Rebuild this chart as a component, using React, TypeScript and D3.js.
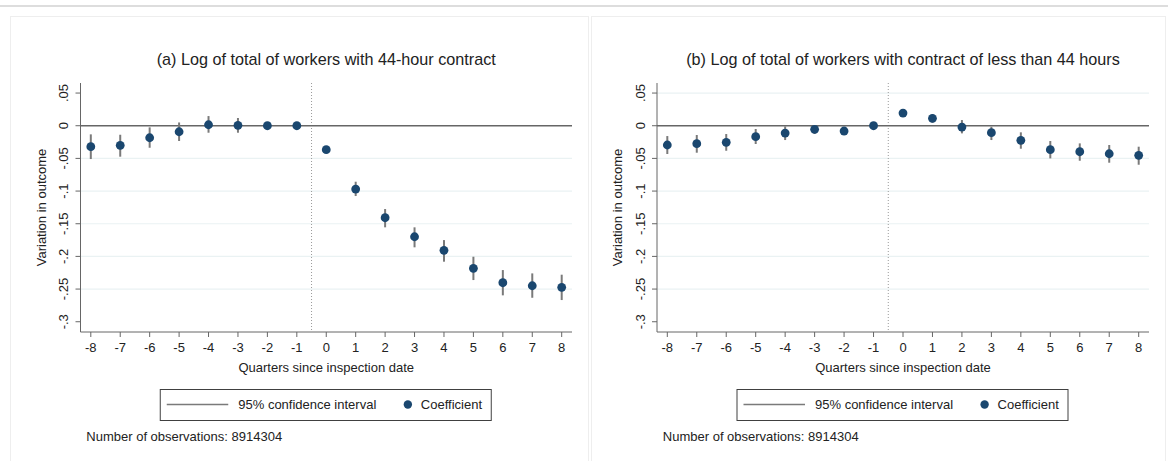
import React from "react";
import * as d3 from "d3";

const quarters = [-8, -7, -6, -5, -4, -3, -2, -1, 0, 1, 2, 3, 4, 5, 6, 7, 8];
const yTicks = [0.05, 0, -0.05, -0.1, -0.15, -0.2, -0.25, -0.3];
const yTickLabels = [".05", "0", "-.05", "-.1", "-.15", "-.2", "-.25", "-.3"];

const coefA = [-0.032, -0.030, -0.0184, -0.0092, 0.0015, 0.0006, 0, 0, -0.0367, -0.0969, -0.1408, -0.1699, -0.1907, -0.2183, -0.2403, -0.2449, -0.2474];
const loA = [-0.051, -0.0474, -0.0337, -0.0234, -0.0107, -0.0107, -0.005, null, -0.042, -0.1076, -0.1555, -0.1861, -0.2081, -0.2362, -0.2596, -0.2633, -0.2668];
const hiA = [-0.0132, -0.0138, -0.0025, 0.005, 0.0148, 0.0118, 0.005, null, -0.032, -0.0857, -0.1275, -0.1555, -0.175, -0.2005, -0.2209, -0.226, -0.228];

const coefB = [-0.0295, -0.0275, -0.0254, -0.0168, -0.0112, -0.0055, -0.0081, 0, 0.0194, 0.0113, -0.002, -0.0107, -0.0224, -0.0367, -0.0398, -0.0429, -0.0453];
const loB = [-0.0433, -0.0413, -0.0383, -0.028, -0.0219, -0.0127, -0.012, null, 0.016, 0.0046, -0.0117, -0.0219, -0.0352, -0.05, -0.0536, -0.0566, -0.0597];
const hiB = [-0.0158, -0.0142, -0.0127, -0.005, -0.001, 0.001, -0.004, null, 0.023, 0.0174, 0.0087, -0.0015, -0.0101, -0.0234, -0.027, -0.0295, -0.0321];

const titleA = "(a) Log of total of workers with 44-hour contract";
const titleB = "(b) Log of total of workers with contract of less than 44 hours";
const xTitle = "Quarters since inspection date";
const yTitle = "Variation in outcome";
const legendCI = "95% confidence interval";
const legendCoef = "Coefficient";
const note = "Number of observations: 8914304";

const FONT = "'Liberation Sans', Arial, Helvetica, sans-serif";
const DOT = "#1a476f";
const CI = "#7a7a7a";
const AXIS = "#666666";
const GRID = "#eaf2f3";
const TEXT = "#222222";

type PanelProps = {
  left: number;
  right: number;
  title: string;
  coef: number[];
  lo: (number | null)[];
  hi: (number | null)[];
  gridTop: boolean;
};

function Panel({ left, right, title, coef, lo, hi, gridTop }: PanelProps) {
  const top = 83;
  const bottom = 332;
  const x = d3.scaleLinear().domain([-8.35, 8.35]).range([left, right]);
  const y = d3.scaleLinear().domain([-0.3157, 0.0654]).range([bottom, top]);
  const cx = (left + right) / 2;
  const cy = (top + bottom) / 2;
  return (
    <g fontFamily={FONT}>
      {/* gridlines */}
      {yTicks.map((t, i) =>
        t !== 0 && t !== -0.3 && (t !== 0.05 || gridTop) ? (
          <line key={"g" + i} x1={left} x2={right} y1={y(t)} y2={y(t)} stroke={GRID} strokeWidth={1.2} />
        ) : null
      )}
      {/* event line */}
      <line x1={x(-0.5)} x2={x(-0.5)} y1={top} y2={bottom} stroke="#9a9a9a" strokeWidth={1} strokeDasharray="1,2" />
      {/* zero line */}
      <line x1={left} x2={right} y1={y(0)} y2={y(0)} stroke={AXIS} strokeWidth={1.6} />
      {/* axes */}
      <line x1={left} x2={left} y1={top} y2={bottom} stroke={AXIS} strokeWidth={1} />
      <line x1={left} x2={right} y1={bottom} y2={bottom} stroke={AXIS} strokeWidth={1} />
      {yTicks.map((t, i) => (
        <g key={"yt" + i}>
          <line x1={left - 5} x2={left} y1={y(t)} y2={y(t)} stroke={AXIS} strokeWidth={1} />
          <text
            transform={`translate(${left - 12.5},${y(t)}) rotate(-90)`}
            textAnchor="middle"
            fontSize={13}
            fill={TEXT}
          >
            {yTickLabels[i]}
          </text>
        </g>
      ))}
      {quarters.map((q) => (
        <g key={"xt" + q}>
          <line x1={x(q)} x2={x(q)} y1={bottom} y2={bottom + 5} stroke={AXIS} strokeWidth={1} />
          <text x={x(q)} y={bottom + 19.5} textAnchor="middle" fontSize={13} fill={TEXT}>
            {q}
          </text>
        </g>
      ))}
      {/* CIs */}
      {quarters.map((q, i) =>
        lo[i] !== null && hi[i] !== null ? (
          <line key={"ci" + q} x1={x(q)} x2={x(q)} y1={y(lo[i] as number)} y2={y(hi[i] as number)} stroke={CI} strokeWidth={2} />
        ) : null
      )}
      {/* points */}
      {quarters.map((q, i) => (
        <circle key={"p" + q} cx={x(q)} cy={y(coef[i])} r={4.4} fill={DOT} />
      ))}
      {/* titles */}
      <text x={cx} y={65} textAnchor="middle" fontSize={16.2} fill={TEXT}>
        {title}
      </text>
      <text x={cx} y={371.5} textAnchor="middle" fontSize={13} fill={TEXT}>
        {xTitle}
      </text>
      <text transform={`translate(${left - 35},${cy}) rotate(-90)`} textAnchor="middle" fontSize={13} fill={TEXT}>
        {yTitle}
      </text>
      {/* legend */}
      <rect x={cx - 166} y={389.5} width={331} height={31} fill="#ffffff" stroke="#404040" strokeWidth={1} />
      <line x1={cx - 159.5} x2={cx - 98} y1={404.5} y2={404.5} stroke={CI} strokeWidth={1.6} />
      <text x={cx - 88} y={409} fontSize={13} fill={TEXT}>
        {legendCI}
      </text>
      <circle cx={cx + 81.6} cy={404.5} r={4.2} fill={DOT} />
      <text x={cx + 94.6} y={409} fontSize={13} fill={TEXT}>
        {legendCoef}
      </text>
      <text x={left + 5.8} y={441.3} fontSize={13} fill={TEXT}>
        {note}
      </text>
    </g>
  );
}

export default function App() {
  return (
    <svg
      width={1168}
      height={461}
      viewBox="0 0 1168 461"
      style={{ position: "absolute", left: 0, top: 0, background: "#ffffff" }}
    >
      <rect x={0} y={0} width={1168} height={461} fill="#ffffff" />
      <line x1={0} x2={1168} y1={6} y2={6} stroke="#d2d2d2" strokeWidth={1.5} />
      <rect x={10.5} y={16.5} width={578} height={470} fill="#ffffff" stroke="#eeeeee" strokeWidth={1} />
      <rect x={591.5} y={16.5} width={574} height={470} fill="#ffffff" stroke="#eeeeee" strokeWidth={1} />
      <Panel left={80.5} right={572} title={titleA} coef={coefA} lo={loA} hi={hiA} gridTop={false} />
      <Panel left={657} right={1149} title={titleB} coef={coefB} lo={loB} hi={hiB} gridTop={true} />
    </svg>
  );
}
